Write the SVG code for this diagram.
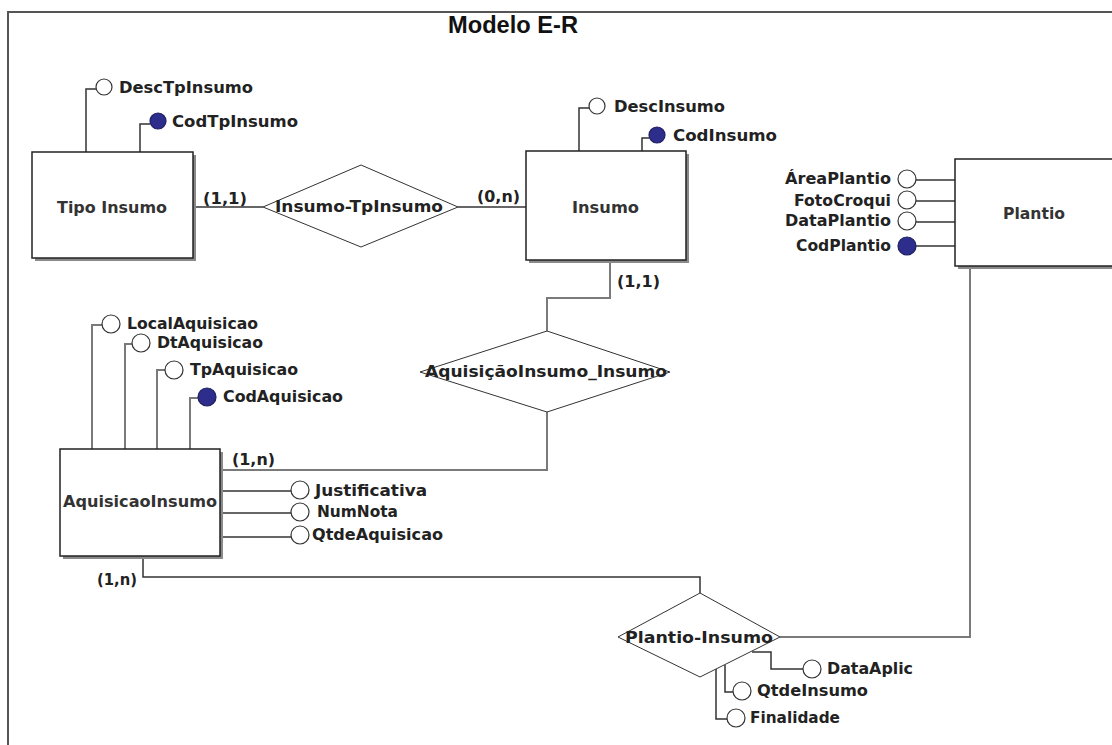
<svg xmlns="http://www.w3.org/2000/svg" width="1112" height="745" viewBox="0 0 1112 745">
<style>
.bg{fill:#fff}
.frame{stroke:#555;stroke-width:2;fill:none}
.box{fill:#fff;stroke:#222;stroke-width:1.5}
.shadow{fill:#8a8a8a}
.rel{fill:#fff;stroke:#333;stroke-width:1}
.c{fill:none;stroke:#333;stroke-width:1.5}
.g{fill:none;stroke:#7a7a7a;stroke-width:2}
.att{fill:#fff;stroke:#333;stroke-width:1.2}
.key{fill:#2d2d8c;stroke:#1e1e60;stroke-width:1.2}
text{font-family:"DejaVu Sans","Liberation Sans",sans-serif;font-weight:bold;font-size:15px;fill:#222}
.ent{fill:#333}
.title{font-family:"Liberation Sans",Arial,sans-serif;font-size:23px;fill:#111}
</style>
<rect class="bg" x="0" y="0" width="1112" height="745"/>
<path class="frame" d="M8,745 V12 H1112"/>
<text class="title" x="448" y="33" textLength="130" lengthAdjust="spacingAndGlyphs">Modelo E-R</text>

<g id="connectors">
  <path class="c" d="M193,207 H263"/>
  <path class="c" d="M458,207 H527"/>
  <path class="g" d="M610,260 V298 H547 V331"/>
  <path class="g" d="M547,412 V470 H221"/>
  <path class="c" d="M143,556 V577 H700 V593"/>
  <path class="g" d="M970,266 V637 H780"/>
  <path class="c" d="M86,152 V89 H96"/>
  <path class="c" d="M140,152 V124 H150"/>
  <path class="c" d="M579,151 V108 H589"/>
  <path class="c" d="M642,151 V138 H649"/>
  <path class="c" d="M916,180 H955"/>
  <path class="c" d="M916,201 H955"/>
  <path class="c" d="M916,222 H955"/>
  <path class="c" d="M916,246 H955"/>
  <path class="g" d="M92,449 V325 H102"/>
  <path class="g" d="M125,449 V344 H132"/>
  <path class="g" d="M157,449 V370 H165"/>
  <path class="g" d="M190,449 V398 H198"/>
  <path class="c" d="M221,491 H291"/>
  <path class="c" d="M221,513 H291"/>
  <path class="c" d="M221,537 H291"/>
  <path class="c" d="M752,652 H771 V669 H803"/>
  <path class="c" d="M725,665 V692 H733"/>
  <path class="c" d="M716,669 V719 H727"/>
  <text x="203" y="204" textLength="44" lengthAdjust="spacingAndGlyphs">(1,1)</text>
  <text x="477" y="202" textLength="43" lengthAdjust="spacingAndGlyphs">(0,n)</text>
  <text x="617" y="287" textLength="43" lengthAdjust="spacingAndGlyphs">(1,1)</text>
  <text x="232" y="465" textLength="43" lengthAdjust="spacingAndGlyphs">(1,n)</text>
  <text x="97" y="585" textLength="40" lengthAdjust="spacingAndGlyphs">(1,n)</text>
</g>

<g id="tipo-insumo">
  <rect class="shadow" x="35" y="155" width="161" height="106"/>
  <rect class="box" x="32" y="152" width="161" height="106"/>
  <text class="ent" x="57" y="213" textLength="110" lengthAdjust="spacingAndGlyphs">Tipo Insumo</text>
</g>
<g id="insumo">
  <rect class="shadow" x="529" y="154" width="160" height="109"/>
  <rect class="box" x="526" y="151" width="160" height="109"/>
  <text class="ent" x="572" y="213" textLength="67" lengthAdjust="spacingAndGlyphs">Insumo</text>
</g>
<g id="plantio">
  <rect class="shadow" x="958" y="162" width="160" height="107"/>
  <rect class="box" x="955" y="159" width="160" height="107"/>
  <text class="ent" x="1003" y="219" textLength="62" lengthAdjust="spacingAndGlyphs">Plantio</text>
</g>
<g id="aquisicao-insumo">
  <rect class="shadow" x="63" y="452" width="160" height="107"/>
  <rect class="box" x="60" y="449" width="160" height="107"/>
  <text class="ent" x="63" y="507" textLength="154" lengthAdjust="spacingAndGlyphs">AquisicaoInsumo</text>
</g>

<g id="rel-insumo-tpinsumo">
  <polygon class="rel" points="263,207 361,165 458,207 361,247"/>
  <text x="275" y="212" textLength="168" lengthAdjust="spacingAndGlyphs">Insumo-TpInsumo</text>
</g>
<g id="rel-aquisicao-insumo">
  <polygon class="rel" points="420,372 547,331 670,372 547,412"/>
  <text x="425" y="377" textLength="242" lengthAdjust="spacingAndGlyphs">AquisiçãoInsumo_Insumo</text>
</g>
<g id="rel-plantio-insumo">
  <polygon class="rel" points="618,637 700,593 780,637 700,677"/>
  <text x="625" y="643" textLength="148" lengthAdjust="spacingAndGlyphs">Plantio-Insumo</text>
</g>

<g id="attr-desctpinsumo"><circle class="att" cx="104" cy="87" r="8"/><text x="119" y="93" textLength="134" lengthAdjust="spacingAndGlyphs">DescTpInsumo</text></g>
<g id="attr-codtpinsumo"><circle class="key" cx="158" cy="121" r="8"/><text x="172" y="127" textLength="126" lengthAdjust="spacingAndGlyphs">CodTpInsumo</text></g>
<g id="attr-descinsumo"><circle class="att" cx="597" cy="106" r="8"/><text x="614" y="112" textLength="111" lengthAdjust="spacingAndGlyphs">DescInsumo</text></g>
<g id="attr-codinsumo"><circle class="key" cx="657" cy="135" r="8"/><text x="673" y="141" textLength="104" lengthAdjust="spacingAndGlyphs">CodInsumo</text></g>

<g id="attr-areaplantio"><circle class="att" cx="907" cy="179" r="9"/><text x="785" y="184" textLength="106" lengthAdjust="spacingAndGlyphs">ÁreaPlantio</text></g>
<g id="attr-fotocroqui"><circle class="att" cx="907" cy="200" r="9"/><text x="794" y="206" textLength="97" lengthAdjust="spacingAndGlyphs">FotoCroqui</text></g>
<g id="attr-dataplantio"><circle class="att" cx="907" cy="221" r="9"/><text x="785" y="226" textLength="106" lengthAdjust="spacingAndGlyphs">DataPlantio</text></g>
<g id="attr-codplantio"><circle class="key" cx="907" cy="246" r="9"/><text x="796" y="251" textLength="95" lengthAdjust="spacingAndGlyphs">CodPlantio</text></g>

<g id="attr-localaquisicao"><circle class="att" cx="111" cy="324" r="9"/><text x="127" y="329" textLength="131" lengthAdjust="spacingAndGlyphs">LocalAquisicao</text></g>
<g id="attr-dtaquisicao"><circle class="att" cx="141" cy="343" r="9"/><text x="157" y="348" textLength="106" lengthAdjust="spacingAndGlyphs">DtAquisicao</text></g>
<g id="attr-tpaquisicao"><circle class="att" cx="174" cy="370" r="9"/><text x="190" y="375" textLength="108" lengthAdjust="spacingAndGlyphs">TpAquisicao</text></g>
<g id="attr-codaquisicao"><circle class="key" cx="207" cy="397" r="9"/><text x="223" y="402" textLength="120" lengthAdjust="spacingAndGlyphs">CodAquisicao</text></g>

<g id="attr-justificativa"><circle class="att" cx="300" cy="490" r="9"/><text x="315" y="496" textLength="112" lengthAdjust="spacingAndGlyphs">Justificativa</text></g>
<g id="attr-numnota"><circle class="att" cx="300" cy="512" r="9"/><text x="317" y="517" textLength="81" lengthAdjust="spacingAndGlyphs">NumNota</text></g>
<g id="attr-qtdeaquisicao"><circle class="att" cx="300" cy="535" r="9"/><text x="312" y="540" textLength="131" lengthAdjust="spacingAndGlyphs">QtdeAquisicao</text></g>

<g id="attr-dataaplic"><circle class="att" cx="812" cy="669" r="9"/><text x="827" y="674" textLength="86" lengthAdjust="spacingAndGlyphs">DataAplic</text></g>
<g id="attr-qtdeinsumo"><circle class="att" cx="742" cy="691" r="9"/><text x="757" y="696" textLength="111" lengthAdjust="spacingAndGlyphs">QtdeInsumo</text></g>
<g id="attr-finalidade"><circle class="att" cx="736" cy="718" r="9"/><text x="750" y="723" textLength="90" lengthAdjust="spacingAndGlyphs">Finalidade</text></g>
</svg>
